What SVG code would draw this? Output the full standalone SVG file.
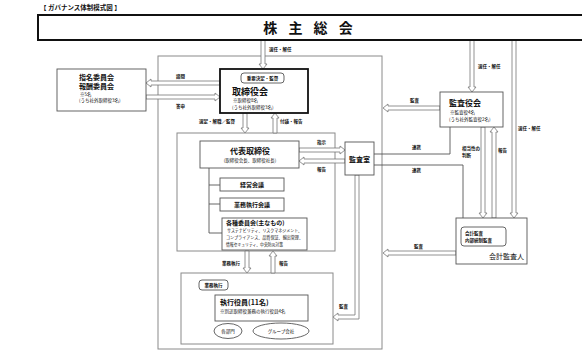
<svg xmlns="http://www.w3.org/2000/svg" width="582" height="358" viewBox="0 0 582 358">
<style>
text{font-family:"Noto Sans CJK JP","Noto Sans",sans-serif;fill:#111}
.t5{font-size:5px}
.t4{font-size:4.5px}
.b{font-weight:bold}
.frame{fill:none;stroke:#8a8a8a;stroke-width:1}
.box{fill:#fff;stroke:#555;stroke-width:0.9}
.arr{fill:#fff;stroke:#777;stroke-width:0.8;stroke-linejoin:round}
.ln{fill:none;stroke:#555;stroke-width:0.9}
</style>
<rect width="582" height="358" fill="#fff"/>
<text x="40" y="10" style="font-size:6.5px" class="b">【 ガバナンス体制模式図 】</text>

<g id="frames">
<rect class="frame" x="158" y="56" width="224" height="293"/>
<rect class="frame" x="177" y="133" width="158" height="118"/>
<rect class="frame" x="181" y="273" width="152" height="71"/>
</g>

<g id="connectors">
<polygon class="arr" points="261,40 261,64 259,64 263,69 267,64 265,64 265,40"/>
<polygon class="arr" points="470,40 470,87 468,87 472,92 476,87 474,87 474,40"/>
<polygon class="arr" points="512,40 512,213 510,213 514,218 518,213 516,213 516,40"/>
<polygon class="arr" points="220,81 151,81 151,79 146,83 151,87 151,85 220,85"/>
<polygon class="arr" points="146,95 215,95 215,93 220,97 215,101 215,99 146,99"/>
<polygon class="arr" points="243,113 243,128 241,128 245,133 249,128 247,128 247,113"/>
<polygon class="arr" points="273,133 273,118 271,118 275,113 279,118 277,118 277,133"/>
<polygon class="arr" points="299,148 340,148 340,146 345,150 340,154 340,152 299,152"/>
<polygon class="arr" points="345,159 304,159 304,157 299,161 304,165 304,163 345,163"/>
<polygon class="arr" points="440,106 388,106 388,104 383,108 388,112 388,110 440,110"/>
<polygon class="arr" points="456,251 388,251 388,249 383,253 388,257 388,255 456,255"/>
<polygon class="arr" points="245,251 245,268 243,268 247,273 251,268 249,268 249,251"/>
<polygon class="arr" points="271,273 271,256 269,256 273,251 277,256 275,256 275,273"/>
<polygon class="arr" points="355,175 355,315 338,315 338,313 333,317 338,321 338,319 359,319 359,175"/>
<polygon class="arr" points="481,127 481,213 479,213 483,218 487,213 485,213 485,127"/>
<polygon class="arr" points="492,218 492,132 490,132 494,127 498,132 496,132 496,218"/>
<polyline class="ln" points="450,127 450,154 374,154"/>
<polyline class="ln" points="374,165 463,165 463,218"/>
<polyline class="ln" points="209,168 209,233 222,233"/>
<line class="ln" x1="209" y1="185" x2="220" y2="185"/>
<line class="ln" x1="209" y1="204" x2="220" y2="204"/>
</g>

<g id="labels">
<text x="269" y="51" class="t4 b">選任・解任</text>
<text x="478" y="68" class="t4 b">選任・解任</text>
<text x="518" y="130" class="t4 b">選任・解任</text>
<text x="176" y="78" class="t4 b">諮問</text>
<text x="176" y="108" class="t4 b">答申</text>
<text x="199" y="123" class="t4 b">選定・解職／監督</text>
<text x="280" y="123" class="t4 b">付議・報告</text>
<text x="317" y="144" class="t4 b">指示</text>
<text x="317" y="171" class="t4 b">報告</text>
<text x="410" y="102" class="t4 b">監査</text>
<text x="412" y="149" class="t4 b">連携</text>
<text x="412" y="172" class="t4 b">連携</text>
<text x="462" y="150" class="t4 b">相当性の</text>
<text x="462" y="157" class="t4 b">判断</text>
<text x="498" y="152" class="t4 b">報告</text>
<text x="414" y="248" class="t4 b">監査</text>
<text x="222" y="265" class="t4 b">業務執行</text>
<text x="279" y="265" class="t4 b">報告</text>
<text x="339" y="308" class="t4 b">監査</text>
</g>

<g id="kabunushi">
<rect x="38" y="15" width="550" height="25" fill="#fff" stroke="#111" stroke-width="2"/>
<text x="310" y="33" text-anchor="middle" class="b" style="font-size:14px;letter-spacing:4px">株 主 総 会</text>
</g>

<g id="torishimariyakukai">
<rect x="220" y="69" width="88" height="44" fill="#fff" stroke="#111" stroke-width="1.8"/>
<rect x="241" y="73" width="43" height="10" rx="3" class="box"/>
<text x="262.5" y="80" text-anchor="middle" class="t4 b">重要決定・監督</text>
<text x="232" y="95" class="b" style="font-size:9px">取締役会</text>
<text x="233" y="102" class="t4">※取締役8名</text>
<text x="232" y="109" class="t4">(うち社外取締役3名)</text>
</g>

<g id="iinkai">
<rect x="57" y="69" width="89" height="42" class="box"/>
<text x="79" y="80" class="b" style="font-size:7px">指名委員会</text>
<text x="79" y="89" class="b" style="font-size:7px">報酬委員会</text>
<text x="80" y="96" class="t4">※5名</text>
<text x="79" y="102" class="t4">(うち社外取締役3名)</text>
</g>

<g id="kansayakukai">
<rect x="440" y="92" width="63" height="35" class="box"/>
<text x="449" y="106" class="b" style="font-size:8px">監査役会</text>
<text x="450" y="114" class="t4">※監査役4名</text>
<text x="449" y="121" class="t4">(うち社外監査役2名)</text>
</g>

<g id="daihyo">
<rect x="200" y="141" width="99" height="27" class="box"/>
<text x="250" y="154" text-anchor="middle" class="b" style="font-size:8px">代表取締役</text>
<text x="250" y="162" text-anchor="middle" class="t4">(取締役会長、取締役社長)</text>
</g>

<g id="kansashitsu">
<rect x="345" y="142" width="29" height="33" class="box"/>
<text x="359.5" y="162" text-anchor="middle" class="b" style="font-size:7px">監査室</text>
</g>

<g id="keiei">
<rect x="220" y="178" width="64" height="13" class="box"/>
<text x="252" y="187" text-anchor="middle" class="b" style="font-size:6px">経営会議</text>
</g>

<g id="gyomu">
<rect x="220" y="198" width="64" height="13" class="box"/>
<text x="252" y="207" text-anchor="middle" class="b" style="font-size:6px">業務執行会議</text>
</g>

<g id="kakushu">
<rect x="222" y="218" width="85" height="32" class="box"/>
<text x="226" y="225" class="b" style="font-size:6px">各種委員会(主なもの)</text>
<text x="227" y="232" style="font-size:4.2px" textLength="75" lengthAdjust="spacingAndGlyphs">サステナビリティ、リスクマネジメント、</text>
<text x="226" y="239" style="font-size:4.2px" textLength="77" lengthAdjust="spacingAndGlyphs">コンプライアンス、品質保証、輸出管理、</text>
<text x="226" y="246" style="font-size:4.2px" textLength="57" lengthAdjust="spacingAndGlyphs">情報セキュリティ、中央防災対策</text>
</g>

<g id="shikko">
<rect x="199" y="280" width="29" height="10" rx="3" class="box"/>
<text x="213.5" y="287" text-anchor="middle" class="t4 b">業務執行</text>
<rect x="215" y="295" width="93" height="26" class="box"/>
<text x="220" y="305" class="b" style="font-size:7px">執行役員(11名)</text>
<text x="220" y="313" class="t4">※別途取締役兼務の執行役員4名</text>
<ellipse cx="228" cy="331" rx="14" ry="7.5" class="box"/>
<text x="228" y="333" text-anchor="middle" class="t4">各部門</text>
<ellipse cx="281" cy="331" rx="28" ry="8" class="box"/>
<text x="281" y="333" text-anchor="middle" class="t4">グループ会社</text>
</g>

<g id="kaikeikansanin">
<rect x="456" y="218" width="71" height="46" class="box"/>
<rect x="461" y="227" width="45" height="19" rx="3" class="box"/>
<text x="465" y="235" class="t4 b">会計監査</text>
<text x="465" y="242" class="t4 b">内部統制監査</text>
<text x="524" y="259" text-anchor="end" style="font-size:7px">会計監査人</text>
</g>
</svg>
